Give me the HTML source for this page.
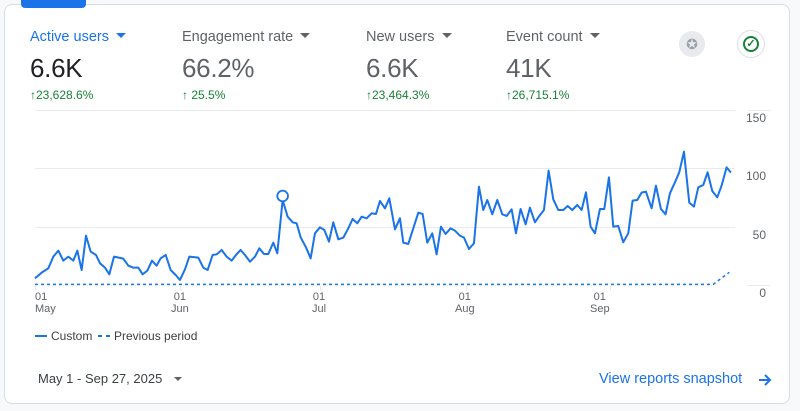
<!DOCTYPE html>
<html><head><meta charset="utf-8"><style>
body{margin:0;width:800px;height:411px;background:#f8f9fa;font-family:"Liberation Sans",sans-serif;position:relative;overflow:hidden}
.card{position:absolute;left:4px;top:4px;width:786px;height:400px;background:#fff;border:1px solid #dadce0;border-radius:8px;box-sizing:border-box}
.t{position:absolute;white-space:nowrap}
.lab{top:29px;font-size:14.5px;color:#5f6368}
.val{top:53px;font-size:26px;color:#5f6368;letter-spacing:-0.3px}
.pct{top:88px;font-size:12px;color:#188038}
.tri{display:inline-block;width:0;height:0;border-left:5px solid transparent;border-right:5px solid transparent;border-top:5px solid #5f6368;margin-left:7px;vertical-align:3px}
.ax{font-size:11px;color:#5f6368;text-align:center;line-height:12px}
</style></head><body>
<div class="card"></div>
<div style="position:absolute;left:21px;top:0;width:65px;height:8px;background:#1a73e8;border-radius:0 0 4px 4px"></div>
<div class="t lab" style="left:30px;color:#1a73e8">Active users<span class="tri" style="border-top-color:#1a73e8"></span></div>
<div class="t lab" style="left:182px">Engagement rate<span class="tri"></span></div>
<div class="t lab" style="left:366px">New users<span class="tri"></span></div>
<div class="t lab" style="left:506px">Event count<span class="tri"></span></div>
<div class="t val" style="left:30px;color:#202124">6.6K</div>
<div class="t val" style="left:182px">66.2%</div>
<div class="t val" style="left:366px">6.6K</div>
<div class="t val" style="left:506px">41K</div>
<div class="t pct" style="left:30px"><b>↑</b>23,628.6%</div>
<div class="t pct" style="left:182px"><b>↑</b> 25.5%</div>
<div class="t pct" style="left:366px"><b>↑</b>23,464.3%</div>
<div class="t pct" style="left:506px"><b>↑</b>26,715.1%</div>
<div style="position:absolute;left:679px;top:31px;width:26px;height:26px;border-radius:50%;background:#e8eaed;color:#9aa0a6;font-size:14px;text-align:center;line-height:26px">✪</div>
<div style="position:absolute;left:737px;top:30px;width:28px;height:28px;border-radius:50%;border:1px solid #dadce0;box-sizing:border-box"><div style="position:absolute;left:5px;top:5px;width:16px;height:16px;border:2px solid #188038;border-radius:50%;box-sizing:border-box;color:#188038;font-size:11px;line-height:12px;text-align:center;font-weight:bold">✓</div></div>
<svg width="800" height="411" style="position:absolute;left:0;top:0">
<g stroke="#e8eaed" stroke-width="1">
<line x1="35" y1="110.5" x2="735" y2="110.5"/><line x1="35" y1="168.5" x2="735" y2="168.5"/><line x1="35" y1="227.5" x2="735" y2="227.5"/>
<line x1="748" y1="285.5" x2="770" y2="285.5"/><line x1="748" y1="110.5" x2="770" y2="110.5"/>
<line x1="35.5" y1="286" x2="35.5" y2="291"/><line x1="180.5" y1="286" x2="180.5" y2="291"/><line x1="320.5" y1="286" x2="320.5" y2="291"/><line x1="466.5" y1="286" x2="466.5" y2="291"/><line x1="610.5" y1="286" x2="610.5" y2="291"/>
</g>
<g transform="translate(20,110) scale(0.3333)">
<polyline fill="none" stroke="#1a73e8" stroke-width="2" vector-effect="non-scaling-stroke" stroke-linejoin="round" points="45,505 65,488 85,475 100,440 115,422 130,452 145,440 160,452 172,422 185,480 198,377 212,425 228,435 240,460 255,473 268,493 282,440 310,446 325,467 340,473 355,473 368,493 382,482 396,452 410,467 422,445 437,435 452,480 467,495 480,510 495,478 508,440 535,443 550,473 563,480 578,435 590,433 605,420 620,440 635,452 648,435 662,420 675,435 690,455 705,440 718,415 732,432 745,432 760,398 772,430 788,270 803,320 818,337 830,340 842,382 858,412 872,445 885,370 900,352 913,360 927,395 940,337 955,388 970,383 985,355 998,327 1012,340 1025,320 1040,325 1055,310 1068,312 1080,273 1095,295 1108,265 1125,358 1140,325 1150,398 1165,402 1180,355 1195,308 1208,312 1222,398 1237,370 1250,433 1263,350 1277,372 1292,355 1305,362 1320,377 1332,383 1347,417 1362,400 1377,230 1390,300 1402,270 1417,313 1432,270 1447,313 1460,318 1475,298 1488,370 1502,297 1517,343 1530,293 1545,337 1558,318 1572,300 1586,182 1600,268 1615,300 1630,300 1643,288 1657,300 1672,285 1685,300 1698,247 1712,350 1725,370 1740,297 1753,297 1767,202 1780,350 1795,348 1810,397 1825,370 1838,272 1852,270 1865,248 1878,245 1895,295 1908,227 1923,297 1937,313 1950,250 1965,217 1978,187 1992,125 2008,278 2022,290 2035,232 2050,225 2063,187 2077,243 2092,262 2105,227 2120,172 2133,188"/>
<polyline fill="none" stroke="#1a73e8" stroke-width="1.5" stroke-dasharray="3,3" vector-effect="non-scaling-stroke" points="45,523 2080,523 2128,487"/>
<circle cx="788" cy="258" r="16" fill="#fff" stroke="#1a73e8" stroke-width="1.8" vector-effect="non-scaling-stroke"/>
</g>
</svg>
<div class="t" style="left:735px;top:111px;width:31px;text-align:right;font-size:12px;color:#5f6368">150</div>
<div class="t" style="left:735px;top:169px;width:31px;text-align:right;font-size:12px;color:#5f6368">100</div>
<div class="t" style="left:735px;top:228px;width:31px;text-align:right;font-size:12px;color:#5f6368">50</div>
<div class="t" style="left:735px;top:286px;width:31px;text-align:right;font-size:12px;color:#5f6368">0</div>
<div class="t ax" style="left:35px;top:291px;text-align:left">01<br>May</div>
<div class="t ax" style="left:171px;top:291px">01<br>Jun</div>
<div class="t ax" style="left:312px;top:291px">01<br>Jul</div>
<div class="t ax" style="left:455px;top:291px">01<br>Aug</div>
<div class="t ax" style="left:590px;top:291px">01<br>Sep</div>
<div style="position:absolute;left:35px;top:335px;width:12px;height:2px;background:#1a73e8"></div>
<div class="t" style="left:51px;top:329px;font-size:12px;color:#3c4043">Custom</div>
<div style="position:absolute;left:98px;top:335px;width:4px;height:2px;background:#1a73e8"></div>
<div style="position:absolute;left:106px;top:335px;width:4px;height:2px;background:#1a73e8"></div>
<div class="t" style="left:114px;top:329px;font-size:12px;color:#3c4043">Previous period</div>
<div class="t" style="left:38px;top:371px;font-size:13px;color:#3c4043">May 1 - Sep 27, 2025</div>
<div style="position:absolute;left:174px;top:377px;width:0;height:0;border-left:4px solid transparent;border-right:4px solid transparent;border-top:4px solid #5f6368"></div>
<div class="t" style="left:599px;top:371px;font-size:14.5px;color:#1a73e8">View reports snapshot</div>
<svg width="16" height="16" style="position:absolute;left:757px;top:372px"><path d="M2 8H13M8 3L13 8L8 13" fill="none" stroke="#1a73e8" stroke-width="2"/></svg>
</body></html>
